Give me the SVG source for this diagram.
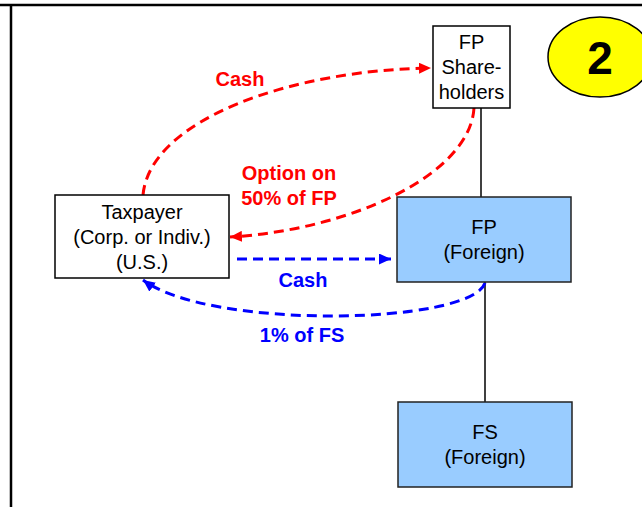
<svg xmlns="http://www.w3.org/2000/svg" width="642" height="507" viewBox="0 0 642 507">
<defs>
<marker id="ar" markerUnits="userSpaceOnUse" markerWidth="13" markerHeight="11" refX="12" refY="5.5" orient="auto"><path d="M0,0 L12,5.5 L0,11 z" fill="#FF0000"/></marker>
<marker id="ab" markerUnits="userSpaceOnUse" markerWidth="13" markerHeight="11" refX="12" refY="5.5" orient="auto"><path d="M0,0 L12,5.5 L0,11 z" fill="#0000FF"/></marker>
</defs>
<style>
.box{fill:#FFFFFF;stroke:#000;stroke-width:1.5}
.blue{fill:#99CCFF;stroke:#222;stroke-width:1.5}
.t{font-family:"Liberation Sans",Arial,sans-serif;font-size:20px;fill:#000;text-anchor:middle}
.lr{font-family:"Liberation Sans",Arial,sans-serif;font-size:20px;font-weight:bold;fill:#FF0000;text-anchor:middle}
.lb{font-family:"Liberation Sans",Arial,sans-serif;font-size:20px;font-weight:bold;fill:#0000FF;text-anchor:middle}
.dr{fill:none;stroke:#FF0000;stroke-width:3;stroke-dasharray:10 6}
.db{fill:none;stroke:#0000FF;stroke-width:3;stroke-dasharray:10 6}
.ln{stroke:#000;stroke-width:1.5;fill:none}
</style>
<rect width="642" height="507" fill="#FFFFFF"/>
<line x1="0" y1="5" x2="642" y2="5" stroke="#000" stroke-width="2.5"/>
<line x1="11" y1="5" x2="11" y2="507" stroke="#000" stroke-width="2.5"/>
<g id="badge">
<ellipse cx="600" cy="57" rx="52" ry="40" fill="#FFFF00" stroke="#000" stroke-width="1.5"/>
<text x="600" y="74" font-family="Liberation Sans,Arial,sans-serif" font-size="46" font-weight="bold" text-anchor="middle" fill="#000">2</text>
</g>
<g id="connectors">
<line class="ln" x1="481" y1="108" x2="481" y2="197"/>
<line class="ln" x1="485" y1="282" x2="485" y2="402"/>
<path class="dr" d="M143,195 C150,120 290,70 431,68" marker-end="url(#ar)"/>
<path class="dr" d="M474,108 C470,175 350,230 230,237" marker-end="url(#ar)"/>
<path class="db" d="M237,259 L391,259" marker-end="url(#ab)"/>
<path class="db" d="M485,283 C470,325 210,330 143,280" marker-end="url(#ab)"/>
</g>
<g id="labels">
<text class="lr" x="240" y="86">Cash</text>
<text class="lr" x="289" y="180">Option on</text>
<text class="lr" x="289" y="205">50% of FP</text>
<text class="lb" x="303" y="287">Cash</text>
<text class="lb" x="302" y="342">1% of FS</text>
</g>
<g id="fp-shareholders">
<rect class="box" x="433" y="26" width="77" height="82"/>
<text class="t" x="471.5" y="49">FP</text>
<text class="t" x="471.5" y="74">Share-</text>
<text class="t" x="471.5" y="99">holders</text>
</g>
<g id="taxpayer">
<rect class="box" x="55" y="195" width="174" height="83"/>
<text class="t" x="142" y="219">Taxpayer</text>
<text class="t" x="142" y="244">(Corp. or Indiv.)</text>
<text class="t" x="142" y="269">(U.S.)</text>
</g>
<g id="fp">
<rect class="blue" x="397" y="197" width="174" height="85"/>
<text class="t" x="484" y="234">FP</text>
<text class="t" x="484" y="259">(Foreign)</text>
</g>
<g id="fs">
<rect class="blue" x="398" y="402" width="174" height="85"/>
<text class="t" x="485" y="439">FS</text>
<text class="t" x="485" y="464">(Foreign)</text>
</g>
</svg>
